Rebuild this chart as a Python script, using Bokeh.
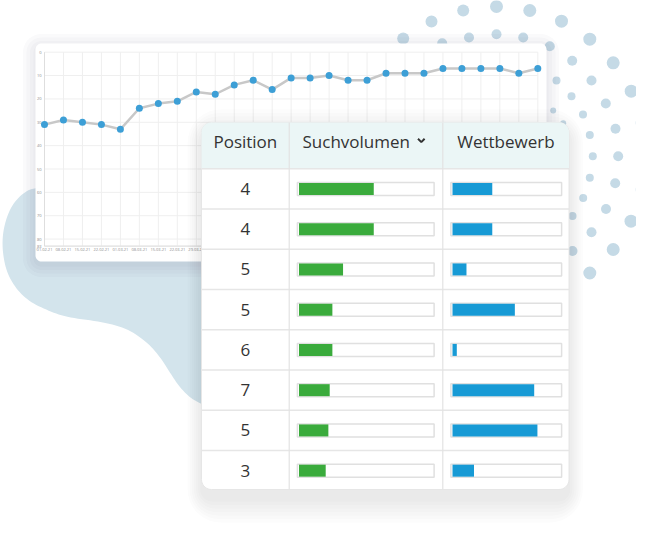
import numpy as np
from bokeh.plotting import figure
from bokeh.models import Range1d
from bokeh.core.properties import value
from bokeh.embed import file_html
from bokeh.resources import INLINE

# ---------------- data ----------------
dates = ["01.02.21", "08.02.21", "15.02.21", "22.02.21", "01.03.21", "08.03.21",
         "15.03.21", "22.03.21", "29.03.21", "05.04.21", "12.04.21", "19.04.21",
         "26.04.21", "03.05.21", "10.05.21", "17.05.21", "24.05.21", "31.05.21",
         "07.06.21", "14.06.21", "21.06.21", "28.06.21", "05.07.21", "12.07.21",
         "19.07.21", "26.07.21", "02.08.21"]
rank = [31, 29, 30, 31, 33, 24, 22, 21, 17, 18, 14, 12, 16, 11, 11, 10, 12, 12,
        9, 9, 9, 7, 7, 7, 7, 9, 7]
y_ticks = [0, 10, 20, 30, 40, 50, 60, 70, 80, 83]
y_max = 83

headers = ["Position", "Suchvolumen", "Wettbewerb"]
positions = [4, 4, 5, 5, 6, 7, 5, 3]
suchvolumen = [56, 56, 33, 25, 25, 23, 22, 20]
wettbewerb = [37, 37, 13, 58, 4, 76, 79, 20]

# ---------------- layout (page pixel coordinates) ----------------
W, H = 636, 525
OX, OY = 0, 0
FONT = value("Open Sans")
TXT = "#333333"

p = figure(width=W, height=H, x_range=Range1d(OX, OX + W), y_range=Range1d(OY + H, OY),
           output_backend="svg", toolbar_location=None, min_border=0,
           x_axis_type=None, y_axis_type=None)
p.outline_line_color = None
p.background_fill_color = "white"
p.border_fill_color = "white"


def rrect(x0, y0, x1, y1, r, top=True, bottom=True, n=10):
    xs, ys = [], []
    rt = r if top else 0.0
    rb = r if bottom else 0.0
    for cx, cy, t0, t1, rad in [(x0 + rt, y0 + rt, np.pi, 1.5 * np.pi, rt),
                                (x1 - rt, y0 + rt, 1.5 * np.pi, 2 * np.pi, rt),
                                (x1 - rb, y1 - rb, 0.0, 0.5 * np.pi, rb),
                                (x0 + rb, y1 - rb, 0.5 * np.pi, np.pi, rb)]:
        t = np.linspace(t0, t1, n)
        xs += list(cx + rad * np.cos(t))
        ys += list(cy + rad * np.sin(t))
    return xs, ys


def shadow(x0, y0, x1, y1, r, dy, layers, alpha, side=1.0):
    for i in range(layers):
        g = 2 + i * 3.5
        xs, ys = rrect(x0 - g * side, y0 - g + dy, x1 + g * side, y1 + g + dy, r + g)
        p.patch(xs, ys, fill_color="#203040", fill_alpha=alpha, line_color=None)


def chaikin(pts, it=3):
    pts = np.array(pts, dtype=float)
    for _ in range(it):
        nxt = np.roll(pts, -1, axis=0)
        q = 0.75 * pts + 0.25 * nxt
        r = 0.25 * pts + 0.75 * nxt
        pts = np.empty((2 * len(q), 2))
        pts[0::2] = q
        pts[1::2] = r
    return pts[:, 0], pts[:, 1]


# ---------------- background blob ----------------
blob_ctrl = [(35, 186), (20, 194), (8, 210), (1, 237), (4, 266), (13, 285), (27, 300),
             (47, 310), (67, 317), (100, 321), (127, 328), (147, 342), (160, 357),
             (170, 373), (180, 388), (193, 400), (208, 406), (250, 400), (250, 200),
             (120, 184)]
bx, by = chaikin(blob_ctrl)
p.patch(bx, by, fill_color="#d3e4ec", line_color=None)

# ---------------- decorative dots ----------------
dots = [(402.7, 38, 6), (431, 21, 6), (462.7, 10, 6), (496, 6, 6.5), (529.3, 10, 6.5),
        (561, 20.7, 6.5), (589.3, 38.7, 6.5), (612.7, 62.3, 6.5), (630.7, 90.7, 6.5),
        (641.7, 122.3, 6.5), (645.5, 155.7, 6.5), (641.7, 189, 6.5), (630.5, 220.7, 6.5),
        (612.7, 249, 6.5), (589.3, 272.5, 6.5),
        (441.7, 42.7, 5), (468.5, 37, 5), (496, 33.7, 5), (522.7, 37, 5), (549.3, 45.7, 5),
        (571.7, 60.3, 5), (591, 80, 5), (605.3, 103, 5), (615, 128.3, 5), (617.7, 155.7, 5),
        (614.7, 182.7, 5), (605.5, 208.5, 5), (591, 231.7, 5), (572, 250.5, 5),
        (556, 80, 4), (571, 95.7, 4), (582.5, 114, 4), (589.3, 134.5, 4), (592.3, 155.7, 4),
        (589.3, 177.3, 4), (582.7, 197.5, 4), (572, 215.5, 4),
        (552.7, 110, 3), (562.7, 122.7, 3)]
p.circle(x=[d[0] for d in dots], y=[d[1] for d in dots], radius=[d[2] for d in dots],
         fill_color="#c5dae6", line_color=None)

# ---------------- line chart card ----------------
LC = dict(x0=35, y0=43, x1=546, y1=261)
shadow(LC["x0"], LC["y0"], LC["x1"], LC["y1"], 6, 3, 4, 0.025)
xs, ys = rrect(LC["x0"], LC["y0"], LC["x1"], LC["y1"], 6)
p.patch(xs, ys, fill_color="white", line_color=None)

# plot area of the small chart (pixels) -> extra ranges
PL, PR, PT, PB = 44.0, 537.3, 51.7, 245.6
n = len(rank)
sx = (PR - PL) / (n - 1)
sy = (PB - PT) / y_max
p.extra_x_ranges = {
    "lc": Range1d(0 - (PL - OX) / sx, (n - 1) + (OX + W - PR) / sx),
}
p.extra_y_ranges = {
    "lc": Range1d(y_max + (OY + H - PB) / sy, 0 - (PT - OY) / sy),
}
kk = list(range(n))
p.segment(x0=kk, y0=[0] * n, x1=kk, y1=[y_max] * n, line_color="#efefef", line_width=1,
          x_range_name="lc", y_range_name="lc")
p.segment(x0=[0] * len(y_ticks), y0=y_ticks, x1=[n - 1] * len(y_ticks), y1=y_ticks,
          line_color="#efefef", line_width=1, x_range_name="lc", y_range_name="lc")
p.segment(x0=[0, 0], y0=[0, y_max], x1=[0, n - 1], y1=[y_max, y_max],
          line_color="#dedede", line_width=1, x_range_name="lc", y_range_name="lc")
p.text(x=[0] * len(y_ticks), y=y_ticks, text=[str(t) for t in y_ticks], x_offset=-3,
       text_align="right", text_baseline="middle", text_font=FONT, text_font_size="4px",
       text_color="#8a8a8a", x_range_name="lc", y_range_name="lc")
p.text(x=kk, y=[y_max] * n, text=dates, y_offset=2, text_align="center",
       text_baseline="top", text_font=FONT, text_font_size="4px", text_color="#8a8a8a",
       x_range_name="lc", y_range_name="lc")
p.line(x=kk, y=rank, line_color="#c8c8c8", line_width=2.5, x_range_name="lc", y_range_name="lc")
p.scatter(x=kk, y=rank, size=7, fill_color="#3d9fd6", line_color=None,
          x_range_name="lc", y_range_name="lc")

# ---------------- table card ----------------
TB = dict(x0=201, y0=122, x1=568.5, y1=489)
HEAD_B = 168.3
ROW_H = 40.25
COL1, COL2 = 288.7, 442.3
shadow(TB["x0"], TB["y0"], TB["x1"], TB["y1"], 10, 10, 7, 0.017, side=0.6)
xs, ys = rrect(TB["x0"], TB["y0"], TB["x1"], TB["y1"], 10)
p.patch(xs, ys, fill_color="white", line_color="#e6e6e6", line_width=1)
xs, ys = rrect(TB["x0"], TB["y0"], TB["x1"], HEAD_B, 10, bottom=False)
p.patch(xs, ys, fill_color="#ebf6f6", line_color=None)

nrows = len(positions)
row0_center = HEAD_B + ROW_H / 2
p.extra_y_ranges["rows"] = Range1d((OY + H - row0_center) / ROW_H, (OY - row0_center) / ROW_H)

# bar scales (pixels of the tracks)
SV0, SV_SCALE = 298.5, 1.335
WB0, WB_SCALE = 452.0, 1.075
p.extra_x_ranges["sv"] = Range1d((OX - SV0) / SV_SCALE, (OX + W - SV0) / SV_SCALE)
p.extra_x_ranges["wb"] = Range1d((OX - WB0) / WB_SCALE, (OX + W - WB0) / WB_SCALE)

rows = list(range(nrows))
# grid lines
p.segment(x0=[TB["x0"]] * (nrows), y0=[r - 0.5 for r in rows], x1=[TB["x1"]] * nrows,
          y1=[r - 0.5 for r in rows], line_color="#e6e6e6", line_width=1.5, y_range_name="rows")
p.segment(x0=[COL1, COL2], y0=[TB["y0"]] * 2, x1=[COL1, COL2], y1=[TB["y1"]] * 2,
          line_color="#e3e3e3", line_width=1.2)

# headers
HEAD_Y = 140.5
HFS = "17px"
p.text(x=[(TB["x0"] + COL1) / 2], y=[HEAD_Y], text=[headers[0]], text_align="center",
       text_baseline="middle", text_font=FONT, text_font_size=HFS, text_color=TXT)
p.text(x=[302], y=[HEAD_Y], text=[headers[1]], text_align="left",
       text_baseline="middle", text_font=FONT, text_font_size=HFS, text_color=TXT)
p.text(x=[(COL2 + TB["x1"]) / 2], y=[HEAD_Y], text=[headers[2]], text_align="center",
       text_baseline="middle", text_font=FONT, text_font_size=HFS, text_color=TXT)
p.line(x=[417.5, 420.8, 424.1], y=[138.3, 141.6, 138.3], line_color=TXT, line_width=2)

# position numbers
p.text(x=[(TB["x0"] + COL1) / 2] * nrows, y=rows, text=[str(v) for v in positions],
       text_align="center", text_baseline="middle", text_font=FONT,
       text_font_size="17px", text_color=TXT, y_range_name="rows")

# bar tracks and bars
pad = 1.6
p.hbar(y=rows, left=-pad / SV_SCALE, right=100 + pad / SV_SCALE, height=13 / ROW_H,
       fill_color="white", line_color="#e0e0e0", line_width=1.5,
       x_range_name="sv", y_range_name="rows")
p.hbar(y=rows, left=0, right=suchvolumen, height=12 / ROW_H, fill_color="#3aab3c",
       line_color=None, x_range_name="sv", y_range_name="rows")
p.hbar(y=rows, left=-pad / WB_SCALE, right=100 + pad / WB_SCALE, height=13 / ROW_H,
       fill_color="white", line_color="#e0e0e0", line_width=1.5,
       x_range_name="wb", y_range_name="rows")
p.hbar(y=rows, left=0, right=wettbewerb, height=12 / ROW_H, fill_color="#179ad5",
       line_color=None, x_range_name="wb", y_range_name="rows")

open("out.html", "w").write(file_html(p, INLINE))
